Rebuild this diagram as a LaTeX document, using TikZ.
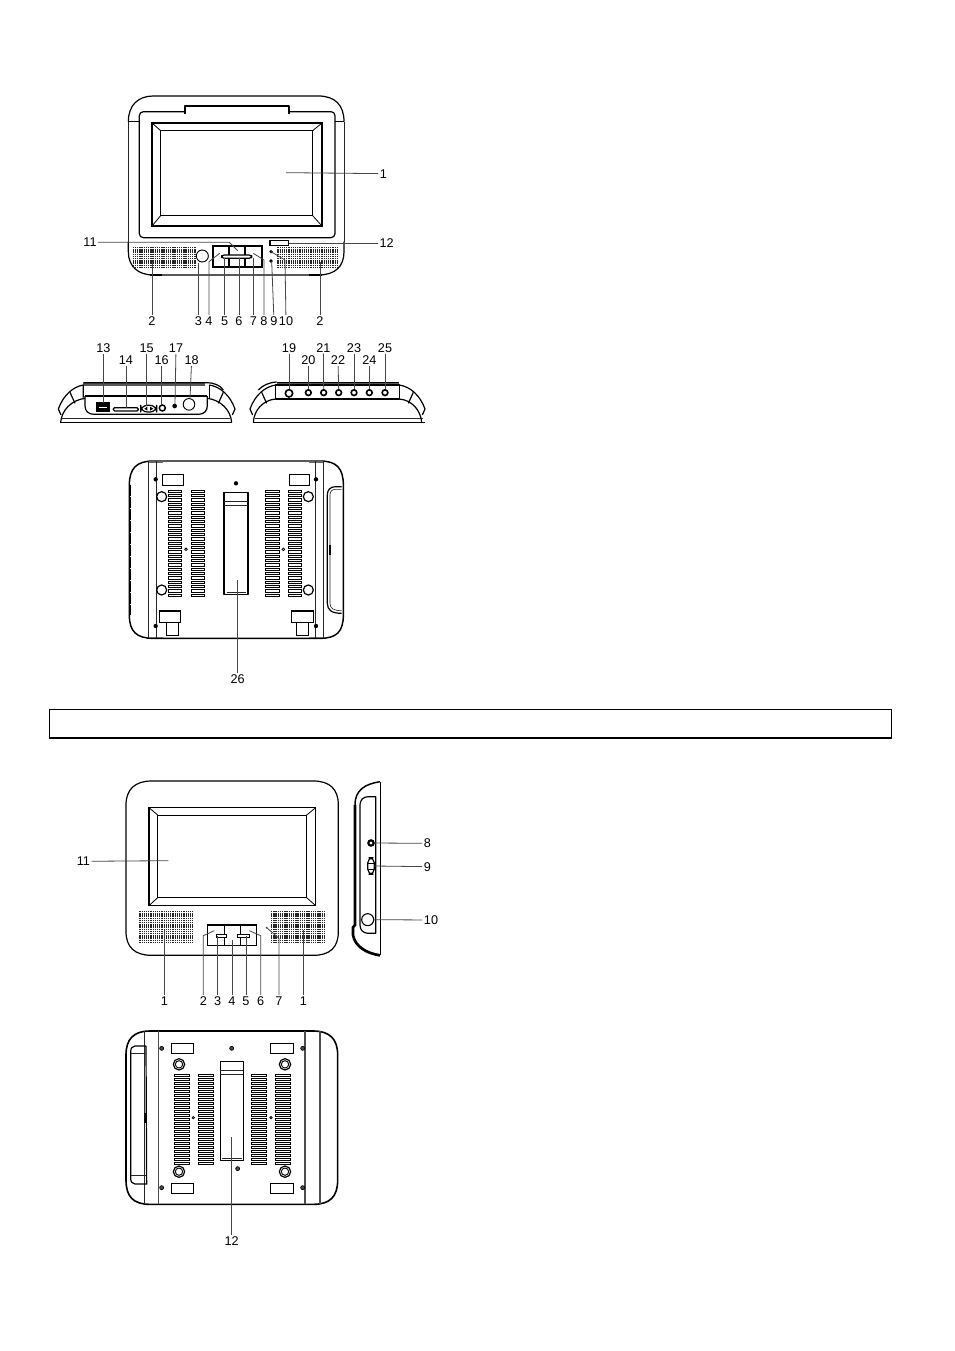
\documentclass[tikz,border=0pt]{standalone}
\usepackage{fontspec}
\setmainfont{Liberation Sans}
\newcommand\labl[4]{\node[lbl] (#1) at (#3) {#2}; \coordinate (#1e) at (#4); \draw[leader] (#1) -- (#1e);}
\newcommand\labk[5]{\node[lbl] (#1) at (#3) {#2}; \coordinate (#1k) at (#4); \coordinate (#1e) at (#5); \draw[leader] (#1) -- (#1k) -- (#1e);}
\newcommand\spk[4]{\foreach \yy in {#3,#4,...,#2}{\draw[speaker] (#1) ++(0,\yy) -- ++(\spkw,0);}}
\tikzset{
  body/.style={line width=.9pt,black,line join=round},
  thin/.style={line width=.45pt,black!85},
  fine/.style={line width=.6pt,black},
  heavy/.style={line width=1.5pt,black},
  leader/.style={line width=.6pt,black!72},
  lbl/.style={font=\fontsize{9.5}{10}\selectfont,inner sep=1pt,text=black},
  speaker/.style={line width=1pt,black!85,dash pattern=on 1pt off .65pt},
  vent/.style={line width=.5pt,black,fill=white},
  zoom/.style={shift={#1},x=.25pt,y=-.25pt}
}
\begin{document}
\begin{tikzpicture}[x=.75pt,y=-.75pt]
\useasboundingbox (0,0) rectangle (954,1351);
\fill[white] (0,0) rectangle (954,1351);
% text band
\node[draw=black,line width=.9pt,minimum width=631.5pt,minimum height=21.6pt,inner sep=0pt] (band) at (470.5,723.5) {};

% ---- player front
\begin{scope}[zoom={(70,85)}]
\draw[body] (175,110) .. controls (175,60) and (205,33) .. (250,33) -- (745,33) .. controls (795,33) and (822,60) .. (822,110);
\draw[thin] (175,110) -- (175,470);
\draw[thin] (822,110) -- (822,470);
\draw[body] (175,470) -- (175,500) .. controls (175,545) and (205,570) .. (250,570) -- (745,570) .. controls (795,570) and (822,545) .. (822,500) -- (822,470);
\draw[line width=1.3pt] (240,570) -- (277,570) (718,570) -- (755,570);
\draw[fine] (175,110) -- (208,110) (795,110) -- (822,110);
\draw[body] (345,88) -- (345,63) -- (657,63) -- (657,88);
\draw[body,rounded corners=3pt] (345,80) -- (208,80) -- (208,458) -- (795,458) -- (795,80) -- (657,80);
\draw[line width=1.45pt] (247,115) rectangle (755,422);
\draw[fine] (272,137) rectangle (728,392);
\draw[fine] (247,115) -- (272,137) (755,115) -- (728,137) (247,422) -- (272,392) (755,422) -- (728,392);
\def\spkw{190}
\spk{188,488}{62}{0}{6.6}
\def\spkw{183}
\spk{622,488}{62}{0}{6.6}
\draw[heavy] (428,484) rectangle (575,545);
\draw[heavy] (476,484) -- (476,545) (526,484) -- (526,545);
\draw[body,fill=white,rounded corners=2pt] (455,510) rectangle (545,520);
\node[draw=black,line width=.7pt,circle,minimum size=9pt,inner sep=0pt] (ir) at (397,513) {};
\node[draw=black,line width=.9pt,minimum width=14pt,minimum height=3.6pt,inner sep=0pt] (win) at (628,474) {};
\fill[black] (603,500) circle (5.5) (603,528) circle (5.5);
\labl{f1}{1}{940,266}{648,263}
\labk{f11}{11}{60,472}{478,472}{503,497}
\labl{f12}{12}{950,474}{657,474}
\labl{f2a}{2}{246,708}{246,530}
\labl{f2b}{2}{750,708}{750,530}
\labl{f3}{3}{385,708}{385,533}
\labk{f4}{4}{417,708}{417,530}{449,505}
\labl{f5}{5}{464,708}{464,520}
\labl{f6}{6}{507,708}{507,520}
\labl{f7}{7}{550,708}{550,520}
\labk{f8}{8}{582,708}{582,525}{550,505}
\labl{f9}{9}{612,708}{605,528}
\labk{f10}{10}{648,708}{645,525}{603,500}
\end{scope}

% ---- player sides
\begin{scope}[zoom={(50,335)}]
% left side view
\draw[line width=1.8pt,black!65] (100,148) -- (465,148);
\draw[body] (100,143) -- (470,143) .. controls (490,143) and (510,150) .. (520,165);
\draw[body] (25,222) .. controls (40,180) and (70,155) .. (100,150) -- (100,188);
\draw[body] (32,262) .. controls (35,225) and (65,195) .. (105,190);
\draw[body] (25,222) -- (33,240) (60,172) -- (75,205);
\draw[body] (30,262) -- (545,262);
\draw[thin] (35,250) -- (540,250);
\draw[body] (105,183) -- (472,183);
\draw[body] (105,183) -- (105,212) .. controls (105,228) and (115,238) .. (132,238) -- (445,238) .. controls (462,238) and (472,228) .. (472,212) -- (472,183);
\draw[body] (478,150) -- (478,188);
\draw[body] (555,222) .. controls (540,180) and (510,155) .. (478,150);
\draw[body] (545,262) .. controls (542,225) and (512,195) .. (472,190);
\draw[body] (555,222) -- (547,240) (520,172) -- (505,205);
\draw[heavy,fill=black] (140,205) rectangle (178,228);
\draw[white,line width=.7pt] (146,216) -- (172,216);
\draw[body,fill=white,rounded corners=1pt] (190,218) rectangle (265,228);
\draw[body,fill=white,rounded corners=5pt] (272,211) rectangle (320,231);
\fill[black] (283,221) -- (292,215) -- (292,227) -- cycle (310,221) -- (300,215) -- (300,227) -- cycle;
\draw[line width=1.1pt] (337,219) circle (9);
\fill[black] (374,213) circle (7);
\node[draw=black,line width=.7pt,circle,minimum size=8.7pt,inner sep=0pt] (j18) at (417,208) {};
\labl{s13}{13}{160,40}{160,205}
\labl{s14}{14}{228,75}{228,218}
\labl{s15}{15}{290,40}{290,212}
\labl{s16}{16}{335,75}{335,210}
\labl{s17}{17}{378,40}{375,207}
\labl{s18}{18}{425,75}{420,192}
% right side view
\draw[line width=1.8pt,black!65] (680,148) -- (1048,148);
\draw[body] (680,143) -- (1048,143);
\draw[body] (625,165) .. controls (640,150) and (655,143) .. (680,141);
\draw[body] (600,222) .. controls (615,180) and (645,155) .. (677,150);
\draw[body] (610,262) .. controls (612,225) and (640,195) .. (677,192);
\draw[body] (600,222) -- (608,240) (635,172) -- (650,205);
\draw[body] (610,262) -- (1125,262);
\draw[thin] (615,250) -- (1120,250);
\draw[body] (677,150) rectangle (1048,192);
\draw[body] (1125,222) .. controls (1110,180) and (1080,155) .. (1048,150);
\draw[body] (1115,262) .. controls (1112,225) and (1085,195) .. (1048,192);
\draw[body] (1125,222) -- (1117,240) (1090,172) -- (1075,205);
\labl{s19}{19}{717,38}{717,163}
\labl{s20}{20}{775,75}{775,163}
\labl{s21}{21}{820,38}{821,163}
\labl{s22}{22}{864,75}{866,163}
\labl{s23}{23}{912,38}{912,163}
\labl{s24}{24}{958,75}{958,163}
\labl{s25}{25}{1005,38}{1005,163}
\draw[line width=1.2pt] (717,175) circle (11);
\foreach \xx in {775,821,866,912,958,1005}{\draw[line width=1.2pt] (\xx,173) circle (8.5);}
\end{scope}

% ---- player back
\begin{scope}[zoom={(115,450)}]
\draw[body,line width=1.1pt] (43,105) .. controls (43,55) and (65,33) .. (115,33) -- (615,33) .. controls (665,33) and (685,55) .. (685,105) -- (685,495) .. controls (685,545) and (665,565) .. (615,565) -- (115,565) .. controls (65,565) and (43,545) .. (43,495) -- cycle;
\draw[line width=1.2pt,black!60] (100,36) -- (143,36) (583,36) -- (625,36) (100,562) -- (143,562) (583,562) -- (625,562);
\draw[thin] (100,33) -- (100,565) (125,33) -- (125,565) (600,33) -- (600,565) (625,33) -- (625,565);
\foreach \x/\y in {122/88,603/88,122/528,603/528,363/100}{\fill[black] (\x,\y) circle (6.5);}
\draw[fine] (142,73) rectangle (205,105) (522,73) rectangle (583,105);
\draw[line width=1.2pt] (142,73) -- (205,73) (522,73) -- (583,73);
\draw[fine] (133,482) rectangle (197,517) (528,482) rectangle (595,517);
\draw[line width=1.4pt] (133,484) -- (197,484) (528,484) -- (595,484);
\draw[fine] (155,517) rectangle (190,556) (543,517) rectangle (580,556);
\foreach \x/\y in {140/140,580/140,140/420,580/420}{\draw[line width=.9pt] (\x,\y) circle (15);}
\foreach \x in {160,228,452,520}{\foreach \y in {120,133,...,432}{\draw[vent] (\x,\y) rectangle ++(40,7);}}
\draw[fine] (213,298) circle (4) (505,298) circle (4);
\draw[body] (327,127) rectangle (399,433);
\draw[thin] (327,155) -- (399,155) (327,167) -- (399,167) (335,426) -- (392,426);
\draw[line width=.9pt] (680,110) -- (662,110) .. controls (645,110) and (637,120) .. (637,135) -- (637,460) .. controls (637,480) and (650,490) .. (680,490);
\draw[thin] (680,118) -- (662,118) .. controls (650,118) and (645,125) .. (645,135) -- (645,460) .. controls (645,475) and (655,482) .. (680,482);
\draw[line width=1pt] (645,285) -- (645,315);
\draw[line width=.9pt,dash pattern=on 8pt off 1pt] (46,105) -- (46,495);
\labl{b26}{26}{368,686}{368,390}
\end{scope}

% ---- screen front
\begin{scope}[zoom={(70,770)}]
\draw[body] (168,105) .. controls (168,58) and (195,33) .. (245,33) -- (730,33) .. controls (780,33) and (805,58) .. (805,105) -- (805,485) .. controls (805,532) and (780,556) .. (730,556) -- (245,556) .. controls (195,556) and (168,532) .. (168,485) -- cycle;
\draw[line width=1.2pt] (237,113) rectangle (737,407);
\draw[fine] (263,135) rectangle (710,383);
\draw[fine] (237,113) -- (263,135) (737,113) -- (710,135) (237,407) -- (263,383) (737,407) -- (710,383);
\def\spkw{160}
\spk{208,425}{95}{0}{6.6}
\def\spkw{162}
\spk{603,425}{95}{0}{6.6}
\draw[line width=1.2pt] (413,465) rectangle (560,527);
\draw[fine] (463,465) -- (463,527) (512,465) -- (512,527);
\draw[fine,fill=white] (438,493) rectangle (470,501) (503,493) rectangle (537,501);
\fill[black!70] (590,473) circle (3);
\labl{g11}{11}{40,274}{295,272}
\labl{g1a}{1}{283,693}{283,480}
\labk{g2}{2}{400,693}{400,497}{433,482}
\labl{g3}{3}{443,693}{443,497}
\labl{g4}{4}{486,693}{486,510}
\labl{g5}{5}{528,693}{528,497}
\labk{g6}{6}{572,693}{572,497}{538,482}
\labk{g7}{7}{627,693}{627,505}{590,473}
\labl{g1b}{1}{700,693}{700,480}
% side
\draw[body,line width=1.1pt] (930,35) .. controls (885,42) and (855,60) .. (855,105);
\draw[line width=2pt] (855,105) -- (855,465) -- (849,472) -- (849,495) .. controls (855,530) and (890,550) .. (930,556);
\draw[fine] (930,35) -- (930,556);
\draw[line width=1.2pt] (932,120) -- (932,152) (932,435) -- (932,470);
\draw[body] (917,80) -- (895,80) .. controls (880,80) and (870,90) .. (870,105) -- (870,465) .. controls (870,480) and (880,490) .. (895,490) -- (917,490) -- cycle;
\draw[line width=1.6pt] (903,219) circle (8);
\draw[body,fill=white,rounded corners=4pt] (893,263) rectangle (913,313);
\draw[fine] (893,280) -- (913,280) (893,297) -- (913,297);
\node[draw=black,line width=.8pt,circle,minimum size=9pt,inner sep=0pt] (j10) at (893,449) {};
\labl{g8}{8}{1072,220}{913,219}
\labl{g9}{9}{1072,290}{913,288}
\labl{g10}{10}{1083,450}{910,449}
\end{scope}

% ---- screen back
\begin{scope}[zoom={(115,1020)}]
\draw[line width=1.2pt,black] (33,105) .. controls (33,58) and (55,33) .. (105,33) -- (595,33) .. controls (645,33) and (668,58) .. (668,105) -- (668,480) .. controls (668,530) and (645,553) .. (595,553) -- (105,553) .. controls (55,553) and (33,530) .. (33,480) -- cycle;
\draw[thin] (88,33) -- (88,553);
\draw[body,black!70] (130,33) -- (130,553) (570,33) -- (570,553) (615,33) -- (615,553);
\foreach \x/\y in {140/85,563/85,140/503,563/503,350/85,368/446}{\draw[line width=.5pt,fill=black!70] (\x,\y) circle (6);}
\foreach \x/\y in {168/70,466/70,168/490,466/490}{\draw[fine] (\x,\y) rectangle ++(68,30); \draw[line width=.9pt] (\x,\y) -- ++(68,0);}
\foreach \x/\y in {192/133,510/133,192/455,510/455}{\draw[line width=.9pt] (\x,\y) circle (17); \draw[line width=.7pt] (\x,\y) circle (11);}
\foreach \x in {177,250,408,480}{\foreach \y in {163,175,...,430}{\draw[vent] (\x,\y) rectangle ++(45,6.5);}}
\draw[fine] (235,293) circle (3.5) (468,293) circle (3.5);
\draw[body] (316,125) rectangle (385,422);
\draw[thin] (316,152) -- (385,152) (316,162) -- (385,162) (322,415) -- (380,415);
\draw[line width=.9pt] (93,78) -- (60,78) .. controls (52,78) and (47,85) .. (47,95) -- (47,475) .. controls (47,485) and (52,492) .. (60,492) -- (95,492) -- (93,78);
\draw[thin] (47,100) -- (93,100) (47,465) -- (93,465);
\draw[line width=1pt] (90,280) -- (90,310);
\labl{h12}{12}{350,662}{350,350}
\end{scope}
\end{tikzpicture}
\end{document}
